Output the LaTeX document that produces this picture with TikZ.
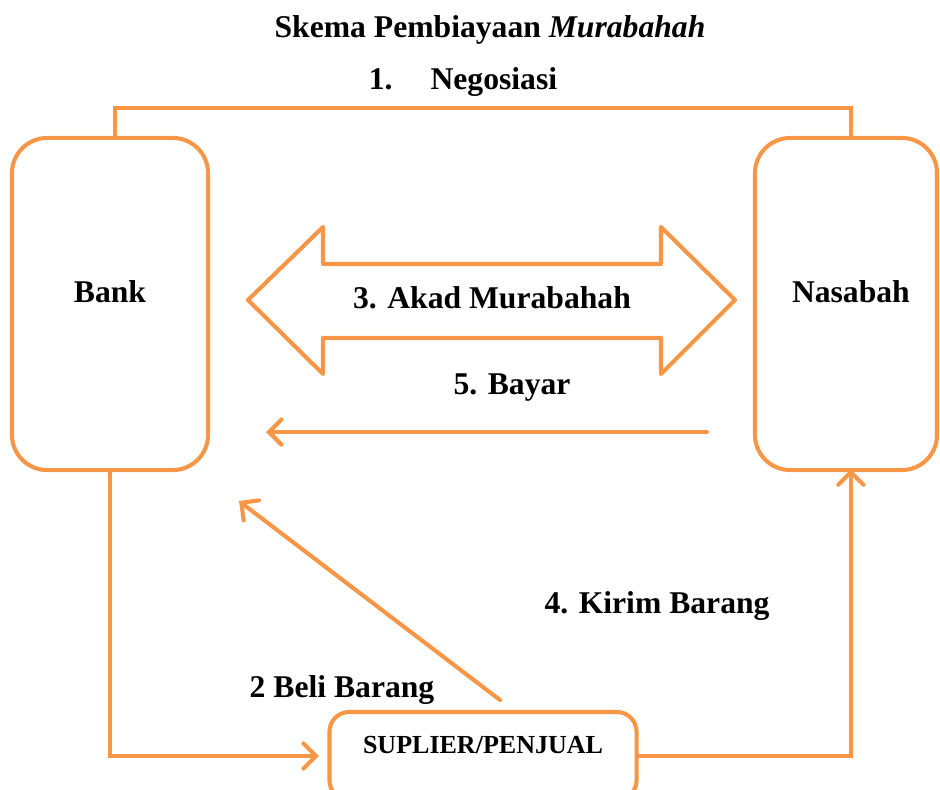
\documentclass[tikz,border=0pt]{standalone}
\usepackage{fontspec}
\setmainfont{Liberation Serif}
\usetikzlibrary{arrows.meta}
\definecolor{murorange}{HTML}{F79646}

\tikzset{
  partybox/.style={draw=murorange, line width=2.9pt, rounded corners=25pt},
  flow/.style={draw=murorange, line width=2.9pt, line cap=round},
  flowarrow/.style={flow, -{Straight Barb[length=9pt,width=18pt,line cap=round]}},
  lbl/.style={font=\fontsize{22.5}{27}\selectfont\bfseries, inner sep=0pt},
  boxlbl/.style={label={[lbl, yshift=9pt]center:#1}}
}

\begin{document}
\begin{tikzpicture}[x=0.025cm, y=-0.025cm]
\useasboundingbox (0,0) rectangle (940,789);

% Judul
\node[lbl] (title) at (490,30) {Skema Pembiayaan \textit{Murabahah}};

% Pihak-pihak
\node[partybox, minimum width=4.9cm, minimum height=8.3cm, boxlbl=Bank] (bank) at (110,304) {};
\node[partybox, minimum width=4.55cm, minimum height=8.3cm,
      label={[lbl, xshift=3.5pt, yshift=9pt]center:Nasabah}] (nas) at (846,304) {};
\node[partybox, rounded corners=14pt, minimum width=7.675cm, minimum height=2.2cm,
      label={[font=\fontsize{18.5}{22}\selectfont\bfseries, yshift=8pt]center:SUPLIER/PENJUAL}] (sup) at (483,756) {};

% 1. Negosiasi
\draw[flow] ([xshift=3.5pt]bank.north) -- ([xshift=3.5pt]bank.north |- 0,108) -| ([xshift=3.5pt]nas.north);
\node[lbl] (nego) at (463,82) {1.\hspace{27pt}Negosiasi};

% 3. Akad Murabahah (panah dua arah)
\draw[draw=murorange, line width=2.9pt, line join=round]
  (248,300) -- (323,227) -- (323,264) -- (661,264) -- (661,227) -- (735,300)
  -- (661,374) -- (661,338) -- (323,338) -- (323,374) -- cycle;
\node[lbl] (akad) at (492,298) {3. Akad Murabahah};

% 5. Bayar
\coordinate (bayarA) at (707,432);
\coordinate (bayarB) at (266,432);
\draw[flowarrow] (bayarA) -- (bayarB);
\node[lbl] (bayar) at (512,388) {5. Bayar};

% 2 Beli Barang
\draw[flowarrow] (bank.south) |- ([xshift=-6pt]sup.west);
\coordinate (beliA) at (500,700);
\coordinate (beliB) at (239,501);
\draw[flowarrow] (beliA) -- (beliB);
\node[lbl] (beli) at (342,690) {2 Beli Barang};

% 4. Kirim Barang
\draw[flowarrow] (sup.east) -| ([xshift=3.5pt, yshift=2pt]nas.south);
\node[lbl] (kirim) at (657,606) {4. Kirim Barang};
\end{tikzpicture}
\end{document}
